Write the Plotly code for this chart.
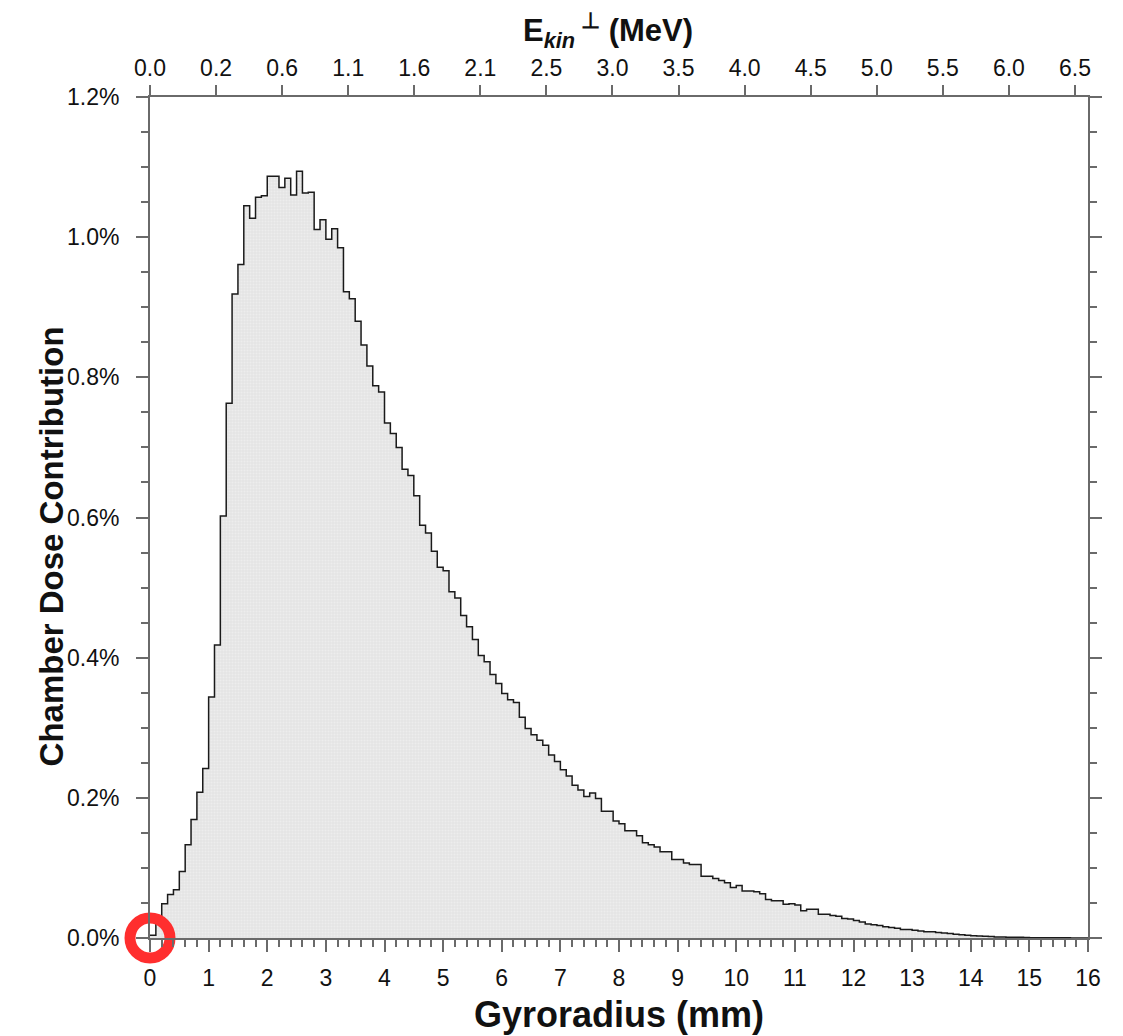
import plotly.graph_objects as go

# Dose contribution per 0.1 mm gyroradius bin (in %)
bin_width = 0.1
dose_pct = [
    0.004, 0.020, 0.049, 0.062, 0.069, 0.095, 0.133, 0.169, 0.208, 0.242,
    0.344, 0.418, 0.602, 0.763, 0.919, 0.961, 1.045, 1.027, 1.057, 1.059,
    1.087, 1.087, 1.071, 1.084, 1.060, 1.094, 1.063, 1.064, 1.011, 1.025,
    0.997, 1.012, 0.985, 0.922, 0.912, 0.880, 0.846, 0.816, 0.788, 0.779,
    0.735, 0.720, 0.700, 0.669, 0.660, 0.631, 0.589, 0.578, 0.552, 0.529,
    0.524, 0.494, 0.485, 0.460, 0.444, 0.426, 0.403, 0.394, 0.376, 0.363,
    0.349, 0.340, 0.336, 0.315, 0.299, 0.290, 0.282, 0.275, 0.261, 0.252,
    0.240, 0.231, 0.218, 0.211, 0.202, 0.207, 0.199, 0.181, 0.181, 0.167,
    0.163, 0.153, 0.153, 0.146, 0.136, 0.133, 0.130, 0.123, 0.123, 0.112,
    0.112, 0.107, 0.105, 0.105, 0.088, 0.088, 0.085, 0.082, 0.079, 0.072,
    0.075, 0.067, 0.067, 0.066, 0.063, 0.055, 0.053, 0.053, 0.048, 0.049,
    0.047, 0.039, 0.041, 0.041, 0.034, 0.034, 0.032, 0.031, 0.028, 0.027,
    0.025, 0.023, 0.020, 0.019, 0.018, 0.016, 0.015, 0.014, 0.012, 0.012,
    0.011, 0.010, 0.009, 0.009, 0.008, 0.007, 0.0065, 0.0055, 0.0045, 0.004,
    0.0033, 0.003, 0.0025, 0.002, 0.0016, 0.0014, 0.0011, 0.001, 0.0009, 0.0007,
    0.0005, 0.0004, 0.0004, 0.0003, 0.0003, 0.0002, 0.0002, 0.0001, 0.0001, 0.0001,
]

# top axis: kinetic energy labels at evenly spaced gyroradius positions
energy_labels = ["0.0", "0.2", "0.6", "1.1", "1.6", "2.1", "2.5", "3.0",
                 "3.5", "4.0", "4.5", "5.0", "5.5", "6.0", "6.5"]
energy_step_mm = 1.127

edges = [i * bin_width for i in range(len(dose_pct) + 1)]
y_step = dose_pct + [dose_pct[-1]]

FONT = "Liberation Sans, Arial, Helvetica, sans-serif"
AX = "#6a6a6a"

fig = go.Figure()

fig.add_trace(go.Scatter(
    x=edges, y=y_step,
    mode="lines",
    line=dict(color="#1a1a1a", width=1.5, shape="hv"),
    fill="tozeroy",
    fillcolor="#e6e6e6",
    fillpattern=dict(shape=".", bgcolor="#e4e4e4", fgcolor="#f6f6f6",
                     size=3, solidity=0.3),
    showlegend=False, hoverinfo="skip",
))

# red marker at the origin (open symbols take their stroke from marker.color)
fig.add_trace(go.Scatter(
    x=[0], y=[0], mode="markers",
    marker=dict(symbol="circle-open", size=40, color="#ff2e2e",
                line=dict(color="#ff2e2e", width=11)),
    cliponaxis=False, showlegend=False, hoverinfo="skip",
))

# dummy trace so the top axis is drawn
fig.add_trace(go.Scatter(x=[0], y=[0], xaxis="x2", mode="markers",
                         marker=dict(opacity=0), showlegend=False,
                         hoverinfo="skip"))

fig.update_layout(
    width=1123, height=1036,
    margin=dict(l=142, r=43, t=89, b=106),
    paper_bgcolor="white", plot_bgcolor="white",
    font=dict(family=FONT, color="#111", size=23),
    xaxis=dict(
        range=[0, 16], dtick=1, tick0=0,
        showgrid=False, zeroline=False,
        showline=True, linecolor=AX, linewidth=2,
        ticks="outside", ticklen=12, tickwidth=1.5, tickcolor=AX,
        minor=dict(dtick=0.2, ticks="outside", ticklen=7, tickwidth=1.5,
                   tickcolor=AX, showgrid=False),
        ticklabelstandoff=6,
        title=dict(text="<b>Gyroradius (mm)</b>", font=dict(size=36),
                   standoff=12),
    ),
    xaxis2=dict(
        overlaying="x", side="top", range=[0, 16],
        tickvals=[k * energy_step_mm for k in range(len(energy_labels))],
        ticktext=energy_labels,
        showgrid=False, zeroline=False,
        showline=True, linecolor=AX, linewidth=2,
        ticks="outside", ticklen=10, tickwidth=1.5, tickcolor=AX,
        ticklabelstandoff=0,
    ),
    yaxis=dict(
        range=[0, 1.2], dtick=0.2, tick0=0,
        tickformat=".1f", ticksuffix="%",
        showgrid=False, zeroline=False,
        showline=True, linecolor=AX, linewidth=2, mirror="ticks",
        ticks="outside", ticklen=12, tickwidth=1.5, tickcolor=AX,
        minor=dict(dtick=0.05, ticks="outside", ticklen=7, tickwidth=1.5,
                   tickcolor=AX, showgrid=False),
        ticklabelstandoff=12,
    ),
    annotations=[
        dict(text="<b>Chamber Dose Contribution</b>", textangle=-90,
             xref="paper", yref="paper", x=-0.105, y=0.465,
             xanchor="center", yanchor="middle", showarrow=False,
             font=dict(size=33)),
        dict(text="<b>E<sub><i>kin</i></sub><sup> ⊥</sup> (MeV)</b>",
             xref="paper", yref="paper", x=0.488, y=1.0,
             xanchor="center", yanchor="bottom", yshift=42,
             showarrow=False, font=dict(size=31)),
    ],
)

fig.write_html("out.html")
